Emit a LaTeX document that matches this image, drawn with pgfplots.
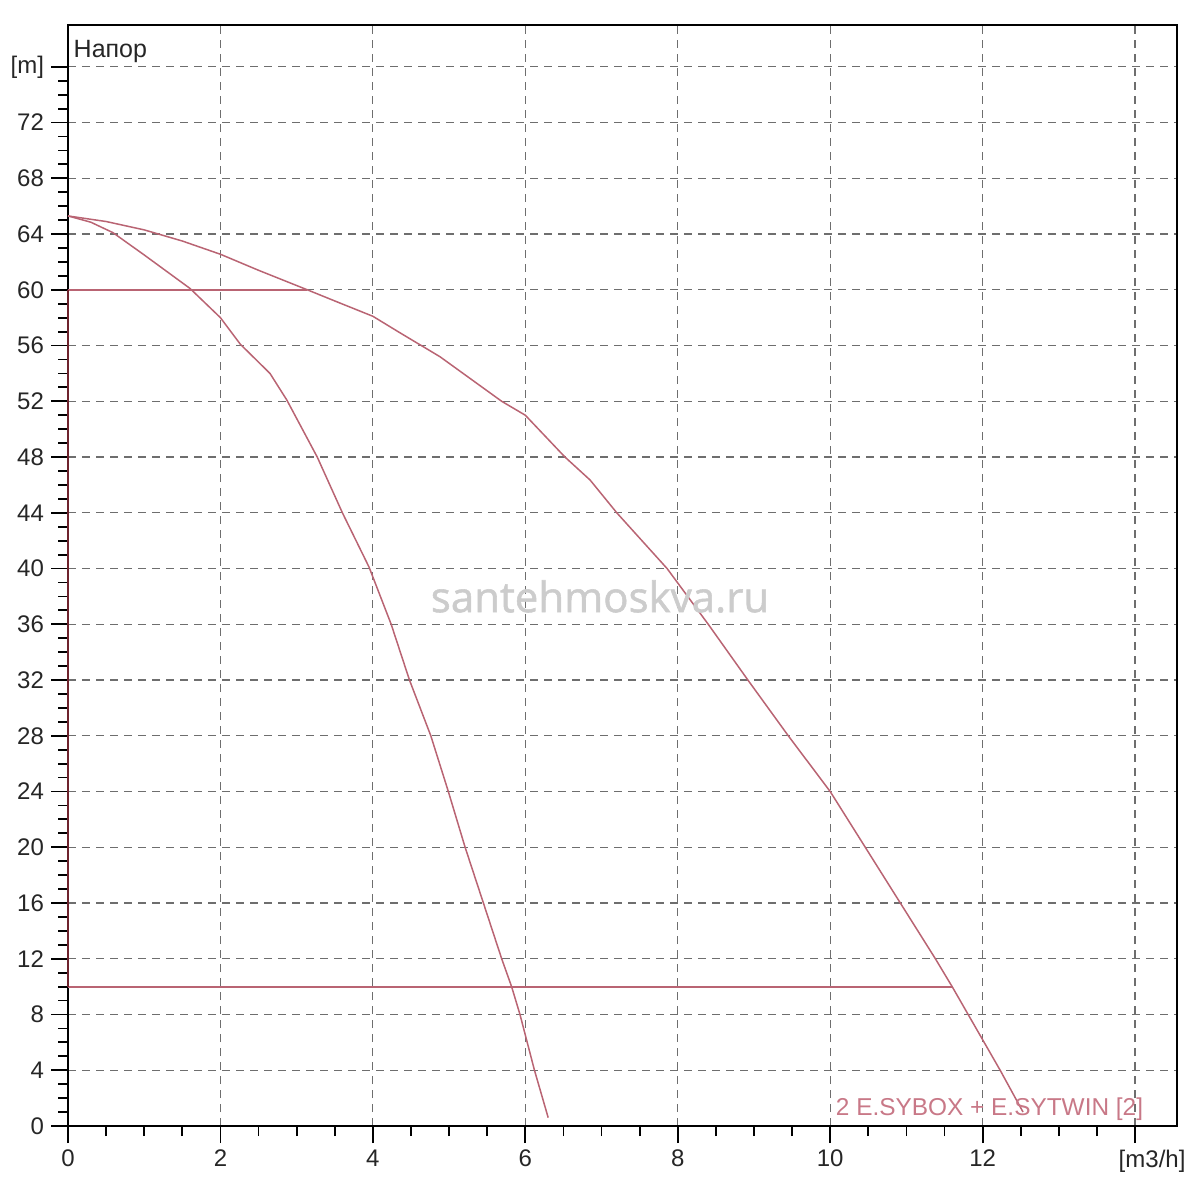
\documentclass[border=0pt]{standalone}
\usepackage{pgfplots}
\pgfplotsset{compat=1.18}
\usepackage{fontspec}
\setmainfont{Liberation Sans}
\newfontfamily\wmfont[FakeBold=1.3]{Open Sans}
\definecolor{curve}{RGB}{185,100,115}
\definecolor{labtxt}{RGB}{200,120,135}
\definecolor{axred}{RGB}{110,35,45}
\definecolor{gridc}{RGB}{110,110,110}
\begin{document}
\begin{tikzpicture}[x=1pt,y=1pt]
\begin{axis}[
  at={(0,0)}, anchor=south west,
  scale only axis, width=554.5pt, height=550.5pt,
  xmin=0, xmax=14.55, ymin=0, ymax=79,
  xtick={0,2,4,6,8,10,12,14},
  xticklabels={0,2,4,6,8,10,12,{\hspace*{17pt}[m3/h]}},
  ytick={0,4,8,12,16,20,24,28,32,36,40,44,48,52,56,60,64,68,72,76},
  yticklabels={0,4,8,12,16,20,24,28,32,36,40,44,48,52,56,60,64,68,72,[m]},
  minor x tick num=3, minor y tick num=3,
  tick align=outside, tick pos=left,
  major tick length=8.5pt, minor tick length=5pt,
  every tick/.style={black, line width=0.9pt},
  grid=major,
  major grid style={gridc, dash pattern=on 4pt off 3pt, line width=0.6pt},
  axis line style={black, line width=1pt},
  tick label style={font=\fontsize{12}{14}\selectfont, text=black!85},
  clip=false,
]
% pump curve (single)
\addplot[curve, line width=0.75pt] coordinates {
(0,65.3) (0.3,64.85) (0.59,64.1) (1.0,62.5) (1.6,60.1) (2.0,58.0) (2.26,56.1)
(2.65,54.0) (2.87,52.1) (3.27,48.0) (3.6,44.0) (3.95,40.1) (4.24,36) (4.48,32)
(4.76,28) (4.99,24) (5.21,20) (5.45,16) (5.69,12) (5.82,10) (5.93,8) (6.12,4) (6.3,0.6)
};
% pump curve (pair)
\addplot[curve, line width=0.75pt] coordinates {
(0,65.3) (0.5,64.9) (1.0,64.3) (1.5,63.5) (2.0,62.55) (2.5,61.4) (3.14,60.0)
(3.5,59.2) (4.0,58.1) (4.36,56.9) (4.88,55.2) (5.69,52.0) (6.0,51.0) (6.52,48.0)
(6.85,46.35) (7.2,44.0) (7.86,40.0) (8.4,36.0) (8.92,32.0) (9.45,28.0) (10.0,24.0)
(10.46,20.0) (10.92,16.0) (11.38,12.0) (11.6,10.0) (11.81,8.0) (12.23,4.0) (12.53,1.0)
};
% operating range lines
\addplot[curve, line width=0.9pt] coordinates {(0,60) (3.14,60)};
\addplot[curve, line width=0.9pt] coordinates {(0,10) (11.6,10)};
\addplot[axred, line width=1pt] coordinates {(0,10) (0,60)};
\node[anchor=base west, inner sep=0, font=\fontsize{12.5}{14}\selectfont, text=black!85] at (axis cs:0.07,76.7) {Напор};
\node[anchor=base west, inner sep=0, text=labtxt, font=\fontsize{12.2}{14}\selectfont] at (axis cs:10.07,0.75) {2 E.SYBOX + E.SYTWIN [2]};
\node[anchor=base, inner sep=0, text=black!20, font=\wmfont\fontsize{21}{24}\selectfont] at (axis cs:6.98,36.87) {santehmoskva.ru};
\end{axis}
\pgfresetboundingbox
\useasboundingbox (-34,-37) rectangle (566,563);
\end{tikzpicture}
\end{document}
